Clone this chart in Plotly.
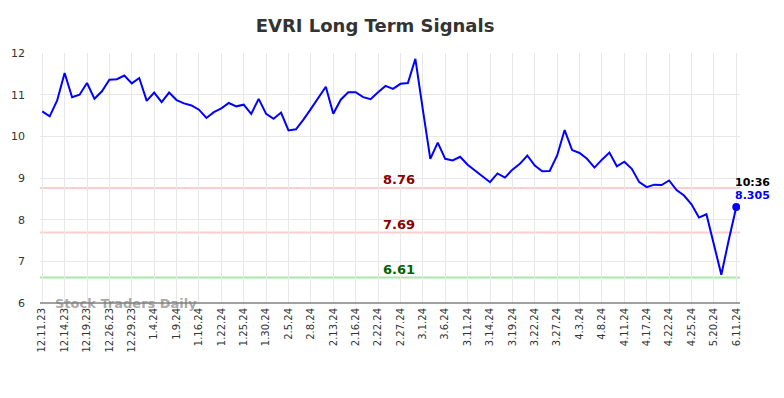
import plotly.graph_objects as go

tick_labels = ["12.11.23", "12.14.23", "12.19.23", "12.26.23", "12.29.23", "1.4.24", "1.9.24",
               "1.16.24", "1.22.24", "1.25.24", "1.30.24", "2.5.24", "2.8.24", "2.13.24",
               "2.16.24", "2.22.24", "2.27.24", "3.1.24", "3.6.24", "3.11.24", "3.14.24",
               "3.19.24", "3.22.24", "3.27.24", "4.3.24", "4.8.24", "4.11.24", "4.17.24",
               "4.22.24", "4.25.24", "5.20.24", "6.11.24"]

prices = [10.60, 10.48, 10.86, 11.52, 10.94, 11.00, 11.28, 10.90, 11.08, 11.36,
          11.37, 11.46, 11.27, 11.40, 10.85, 11.05, 10.82, 11.05, 10.87, 10.79,
          10.74, 10.64, 10.44, 10.58, 10.67, 10.80, 10.72, 10.76, 10.54, 10.90,
          10.54, 10.42, 10.57, 10.14, 10.17, 10.40, 10.66, 10.93, 11.19, 10.54,
          10.88, 11.06, 11.06, 10.94, 10.89, 11.06, 11.21, 11.14, 11.26, 11.28,
          11.86, 10.64, 9.46, 9.85, 9.46, 9.42, 9.51, 9.32, 9.18, 9.06,
          8.90, 9.11, 9.01, 9.20, 9.34, 9.54, 9.30, 9.16, 9.17, 9.54,
          10.15, 9.67, 9.60, 9.46, 9.25, 9.44, 9.61, 9.28, 9.39, 9.22,
          8.90, 8.78, 8.84, 8.83, 8.94, 8.71, 8.58, 8.37, 8.05, 8.13,
          7.44, 6.68, 7.52, 8.305]

levels = [8.76, 7.69, 6.61]
level_line_colors = ["#ffcccc", "#ffcccc", "#aae8aa"]
level_text_colors = ["#8b0000", "#8b0000", "#006400"]
last_time = "10:36"

x = list(range(len(prices)))
tick_vals = list(range(0, len(prices), 3))

fig = go.Figure()

for lv, lc in zip(levels, level_line_colors):
    fig.add_shape(type="line", xref="paper", x0=0, x1=1, y0=lv, y1=lv,
                  line=dict(color=lc, width=2), layer="below")

fig.add_trace(go.Scatter(x=x, y=prices, mode="lines",
                         line=dict(color="#0000ff", width=2), hoverinfo="skip"))
fig.add_trace(go.Scatter(x=[x[-1]], y=[prices[-1]], mode="markers",
                         marker=dict(color="#0000ff", size=8), hoverinfo="skip"))

for lv, tc in zip(levels, level_text_colors):
    fig.add_annotation(x=47.8, y=lv, text=f"<b>{lv:.2f}</b>", showarrow=False,
                       yanchor="bottom", yshift=-1, font=dict(color=tc, size=13, family="DejaVu Sans"))

fig.add_annotation(x=x[-1], y=prices[-1], text=f"<b>{last_time}</b>", showarrow=False,
                   xanchor="left", yanchor="bottom", xshift=-3, yshift=16,
                   font=dict(color="#000000", size=11, family="DejaVu Sans"))
fig.add_annotation(x=x[-1], y=prices[-1], text=f"<b>{prices[-1]}</b>", showarrow=False,
                   xanchor="left", yanchor="bottom", xshift=-3, yshift=3,
                   font=dict(color="#0000ff", size=11, family="DejaVu Sans"))

fig.add_annotation(xref="paper", yref="paper", x=0.018, y=0.0, text="<b>Stock Traders Daily</b>",
                   showarrow=False, xanchor="left", yanchor="middle",
                   font=dict(color="rgba(120,120,120,0.65)", size=13, family="DejaVu Sans"))

fig.update_layout(
    width=776, height=390,
    margin=dict(l=32, r=44, t=45, b=95),
    paper_bgcolor="white", plot_bgcolor="white",
    showlegend=False,
    title=dict(text="<b>EVRI Long Term Signals</b>", x=0.473, xanchor="center",
               y=1 - 18 / 390, yanchor="middle",
               font=dict(size=18, color="#333333", family="DejaVu Sans")),
    font=dict(family="DejaVu Sans", size=11, color="#333333"),
)
fig.update_xaxes(range=[-0.3, 93.5], tickmode="array", tickvals=tick_vals, ticktext=tick_labels,
                 tickangle=-90, showgrid=True, gridcolor="#e8e8e8", gridwidth=1,
                 zeroline=False, showline=False, ticklabelstandoff=2, automargin=False,
                 tickfont=dict(size=10, color="#333333"))
fig.update_yaxes(range=[6, 12], tickvals=[6, 7, 8, 9, 10, 11, 12], showgrid=True,
                 gridcolor="#e8e8e8", gridwidth=1, zeroline=False, showline=False,
                 ticklabelstandoff=14, automargin=False, tickfont=dict(size=11, color="#333333"))
fig.add_shape(type="line", xref="paper", yref="paper", x0=0, x1=1, y0=0, y1=0,
              line=dict(color="#444444", width=1))

fig.write_html("out.html")
